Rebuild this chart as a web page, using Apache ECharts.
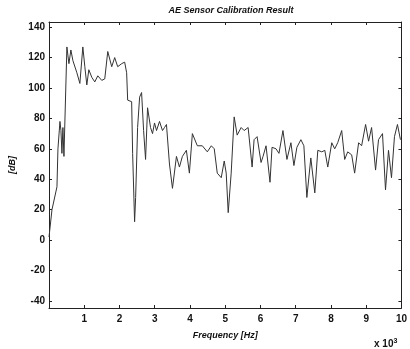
<!DOCTYPE html>
<html><head><meta charset="utf-8">
<script src="https://cdn.jsdelivr.net/npm/echarts@6/dist/echarts.min.js"></script>
<style>html,body{margin:0;padding:0;background:#fff}#c{width:410px;height:349px}</style>
</head><body><div id="c"></div>
<script>
// Frequency (Hz) and amplitude (dB)
const freqHz = [0,85,226,254,311,339,367,395,424,508,565,621,678,791,876,960,1017,1073,1130,1215,1299,1384,1497,1582,1667,1780,1864,1949,2062,2147,2203,2232,2345,2373,2429,2458,2514,2571,2627,2684,2740,2797,2881,2938,2994,3051,3136,3220,3277,3333,3418,3503,3616,3701,3785,3898,3983,4068,4209,4350,4492,4605,4689,4774,4887,4972,5028,5085,5169,5254,5339,5452,5537,5650,5763,5819,5904,6017,6073,6158,6271,6328,6441,6525,6638,6751,6864,6949,7034,7147,7232,7316,7429,7542,7627,7740,7825,7910,8023,8107,8192,8305,8390,8475,8588,8672,8785,8870,8983,9068,9153,9266,9350,9463,9548,9633,9718,9802,9887,9972];
const ampDb = [2,20,35,60,78,72,57,74,55,127,116,125,118,110,103,127,114,102,112,107,104,108,105,106,124,114,120,114,116,117,110,92,91,57,12,28,74,94,97,72,53,87,74,70,77,72,78,72,74,76,50,34,55,48,55,59,44,70,62,62,58,62,60,44,41,52,44,18,44,81,69,74,72,74,48,66,68,51,55,62,38,61,60,57,72,53,64,49,61,66,62,28,54,31,59,58,59,48,64,60,64,72,53,58,56,44,64,62,76,65,74,46,66,70,33,59,41,68,76,66];
const yTicks = [-40,-20,0,20,40,60,80,100,120,140];
const xTicks = [1000,2000,3000,4000,5000,6000,7000,8000,9000,10000];
const titleText = 'AE Sensor Calibration Result';
const xName = 'Frequency [Hz]';
const yName = '[dB]';

const chart = echarts.init(document.getElementById('c'));
const font = 'Liberation Sans, Arial, sans-serif';
const lineStyle = {color:'#222', width:1};
const baseX = {type:'value', min:0, max:10000, axisLine:{show:true, onZero:false, lineStyle},
  axisTick:{show:true, inside:true, length:3, lineStyle, customValues:xTicks},
  splitLine:{show:false}};
const baseY = {type:'value', min:-44.7, max:143.4, axisLine:{show:true, onZero:false, lineStyle},
  axisTick:{show:true, inside:true, length:3, lineStyle, customValues:yTicks},
  splitLine:{show:false}};
chart.setOption({
  animation:false,
  title:{text:titleText, left:226, textAlign:'center', top:1,
    textStyle:{fontFamily:font, fontSize:9, fontStyle:'italic', fontWeight:'bold', color:'#111'}},
  grid:{left:49, right:7, top:22, bottom:41},
  xAxis:[
    Object.assign({}, baseX, {position:'bottom',
      axisLabel:{show:true, customValues:xTicks, formatter:v=>String(v/1000), fontFamily:font, fontSize:10, fontWeight:'bold', color:'#111', margin:6},
      name:xName, nameLocation:'middle', nameGap:23,
      nameTextStyle:{fontFamily:font, fontSize:9, fontStyle:'italic', fontWeight:'bold', color:'#111'}}),
    Object.assign({}, baseX, {position:'top', axisLabel:{show:false}})
  ],
  yAxis:[
    Object.assign({}, baseY, {position:'left',
      axisLabel:{show:true, customValues:yTicks, fontFamily:font, fontSize:10, fontWeight:'bold', color:'#111', margin:4},
      name:yName, nameLocation:'middle', nameGap:32, nameRotate:90,
      nameTextStyle:{fontFamily:font, fontSize:9, fontStyle:'italic', fontWeight:'bold', color:'#111'}}),
    Object.assign({}, baseY, {position:'right', axisLabel:{show:false}})
  ],
  graphic:[{type:'text', left:374, top:338,
    style:{text:'x 10{s|3}', fill:'#111', font:'bold 10px Liberation Sans, Arial, sans-serif',
      rich:{s:{fontSize:7, fontWeight:'bold', verticalAlign:'top', padding:[0,0,6,0]}}}}],
  series:[{type:'line', xAxisIndex:0, yAxisIndex:0, data:freqHz.map((f,i)=>[f,ampDb[i]]),
    showSymbol:false, symbol:'none', lineStyle:{color:'#333', width:1}}]
});
</script></body></html>
